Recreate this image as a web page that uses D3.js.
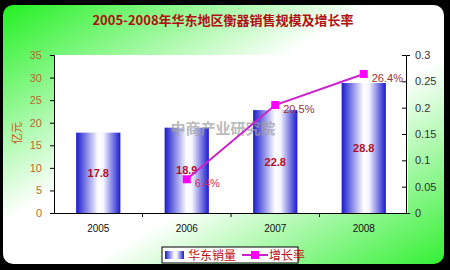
<!DOCTYPE html>
<html><head><meta charset="utf-8">
<script src="https://cdn.jsdelivr.net/npm/d3@7/dist/d3.min.js"></script>
<style>html,body{margin:0;padding:0;background:#000;}svg{display:block;}</style>
</head><body>
<script>
const years = ["2005","2006","2007","2008"];
const sales = [17.8, 18.9, 22.8, 28.8];
const growthYears = ["2006","2007","2008"];
const growth = [0.064, 0.205, 0.264];
const growthLabels = ["6.4%","20.5%","26.4%"];
const leftTicks = [0,5,10,15,20,25,30,35];
const rightTicks = [0,0.05,0.1,0.15,0.2,0.25,0.3];
const rightTickLabels = ["0","0.05","0.1","0.15","0.2","0.25","0.3"];

const W=450,H=270;
const svg=d3.select("body").append("svg").attr("width",W).attr("height",H);
const defs=svg.append("defs");
const bg=defs.append("linearGradient").attr("id","bg").attr("x1","0").attr("y1","0").attr("x2","1").attr("y2","1");
bg.append("stop").attr("offset","0").attr("stop-color","#22f022");
bg.append("stop").attr("offset","0.42").attr("stop-color","#ffffff");
bg.append("stop").attr("offset","0.6").attr("stop-color","#ffffff");
bg.append("stop").attr("offset","1").attr("stop-color","#33f033");
const bar=defs.append("linearGradient").attr("id","bar").attr("x1","0").attr("y1","0").attr("x2","1").attr("y2","0");
bar.append("stop").attr("offset","0").attr("stop-color","#1a1ad0");
bar.append("stop").attr("offset","0.5").attr("stop-color","#ffffff");
bar.append("stop").attr("offset","0.62").attr("stop-color","#f4f4ff");
bar.append("stop").attr("offset","1").attr("stop-color","#1a1ad0");

svg.append("rect").attr("width",W).attr("height",H).attr("fill","#000");
svg.append("rect").attr("x",3).attr("y",5).attr("width",441).attr("height",259).attr("rx",10).attr("fill","url(#bg)");

svg.append("text").attr("x",223).attr("y",25).attr("text-anchor","middle")
  .attr("font-family","'Noto Sans CJK SC',sans-serif").attr("font-weight","bold").attr("font-size",13)
  .attr("fill","#b01010").text("2005-2008年华东地区衡器销售规模及增长率");

const m={l:54,r:408,t:55,b:213};
svg.append("rect").attr("x",m.l).attr("y",m.t).attr("width",m.r-m.l).attr("height",m.b-m.t).attr("fill","#fff");

const x=d3.scaleBand().domain(years).range([m.l,m.r]).paddingInner(0.5).paddingOuter(0.25);
const y=d3.scaleLinear().domain([0,35]).range([m.b,m.t]);
const y2=d3.scaleLinear().domain([0,0.3]).range([m.b,m.t]);

svg.selectAll("rect.bar").data(sales).join("rect").attr("class","bar")
  .attr("x",(d,i)=>x(years[i])).attr("width",x.bandwidth())
  .attr("y",d=>y(d)).attr("height",d=>y(0)-y(d)).attr("fill","url(#bar)");

// watermark
svg.append("text").attr("x",223).attr("y",134).attr("text-anchor","middle")
  .attr("font-family","'Noto Sans CJK SC',sans-serif").attr("font-weight","bold").attr("font-size",15)
  .attr("fill","#a0a0a0").attr("opacity",0.7).text("中商产业研究院");

// axes
const gl=svg.append("g").attr("transform",`translate(${m.l},0)`)
  .call(d3.axisLeft(y).tickValues(leftTicks).tickSize(4).tickPadding(8));
gl.selectAll("text").attr("fill","#b86a30").attr("font-family","'Liberation Sans',Arial,sans-serif").attr("font-size",11);
const gr=svg.append("g").attr("transform",`translate(${m.r-2},0)`)
  .call(d3.axisRight(y2).tickValues(rightTicks).tickFormat((d,i)=>rightTickLabels[i]).tickSize(4).tickPadding(5));
gr.selectAll("text").attr("fill","#333").attr("font-family","'Liberation Sans',Arial,sans-serif").attr("font-size",11);
gr.selectAll(".tick line").attr("x1",-4).attr("x2",0);
const xb=svg.append("g").attr("transform",`translate(0,${m.b})`)
  .call(d3.axisBottom(x).tickSize(0).tickPadding(12));
xb.selectAll("text").attr("fill","#111").attr("font-family","'Liberation Sans',Arial,sans-serif").attr("font-size",10);
[gl,gr,xb].forEach(g=>{g.select(".domain").attr("stroke","#000");g.selectAll(".tick line").attr("stroke","#000");});
const step=x.step();
xb.selectAll("line.sep").data(years.slice(1)).join("line").attr("class","sep")
  .attr("x1",d=>x(d)-step*0.25).attr("x2",d=>x(d)-step*0.25).attr("y1",0).attr("y2",4).attr("stroke","#000");

svg.append("text").attr("transform","translate(21,133) rotate(-90)").attr("text-anchor","middle")
  .attr("font-family","'Noto Sans CJK SC',sans-serif").attr("font-size",11).attr("fill","#d05010").text("亿元");

// bar labels
svg.selectAll("text.bl").data(sales).join("text").attr("class","bl")
  .attr("x",(d,i)=>x(years[i])+x.bandwidth()/2).attr("y",d=>(y(d)+y(0))/2+4)
  .attr("text-anchor","middle").attr("font-family","'Liberation Sans',Arial,sans-serif").attr("font-weight","bold")
  .attr("font-size",11).attr("fill","#b0102a").text(d=>d.toFixed(1));

// line
const cx=d=>x(d)+x.bandwidth()/2;
svg.append("path").datum(growth).attr("fill","none").attr("stroke","#cc22cc").attr("stroke-width",2)
  .attr("d",d3.line().x((d,i)=>cx(growthYears[i])).y(d=>y2(d)));
svg.selectAll("rect.mk").data(growth).join("rect").attr("class","mk")
  .attr("x",(d,i)=>cx(growthYears[i])-4).attr("y",d=>y2(d)-4).attr("width",8).attr("height",8).attr("fill","#ff00ff");
svg.selectAll("text.gl").data(growth).join("text").attr("class","gl")
  .attr("x",(d,i)=>cx(growthYears[i])+8).attr("y",d=>y2(d)+8)
  .attr("font-family","'Liberation Sans',Arial,sans-serif").attr("font-size",11)
  .attr("fill",(d,i)=>i===0?"#d03050":"#a03030").text((d,i)=>growthLabels[i]);

// legend
const lg=svg.append("g");
lg.append("rect").attr("x",162).attr("y",247).attr("width",136).attr("height",16).attr("fill","#fff").attr("stroke","#000");
lg.append("rect").attr("x",165).attr("y",251).attr("width",19).attr("height",8).attr("fill","url(#bar)");
lg.append("text").attr("x",188).attr("y",260).attr("font-family","'Noto Sans CJK SC',sans-serif").attr("font-size",12).attr("fill","#c01010").text("华东销量");
lg.append("line").attr("x1",242).attr("x2",268).attr("y1",255).attr("y2",255).attr("stroke","#cc22cc").attr("stroke-width",2);
lg.append("rect").attr("x",251).attr("y",251).attr("width",8).attr("height",8).attr("fill","#ff00ff");
lg.append("text").attr("x",269).attr("y",260).attr("font-family","'Noto Sans CJK SC',sans-serif").attr("font-size",12).attr("fill","#c01010").text("增长率");
</script>
</body></html>
